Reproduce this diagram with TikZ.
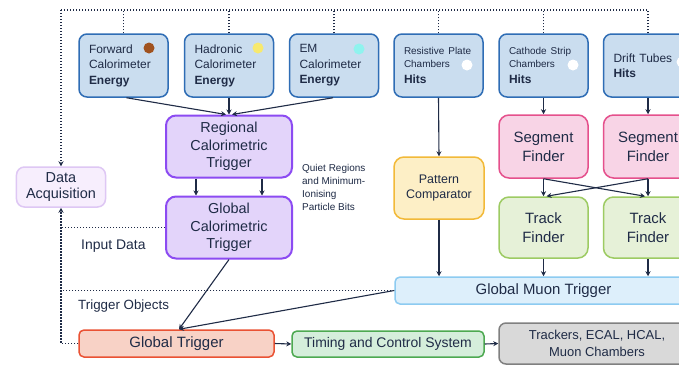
\documentclass[tikz,border=0pt]{standalone}
\usepackage{fontspec}
\setmainfont{Liberation Sans}
\usetikzlibrary{arrows.meta}

\definecolor{ink}{HTML}{1F2B46}
\definecolor{srcfill}{HTML}{CADDEF}
\definecolor{srcline}{HTML}{2F6DB5}
\definecolor{calofill}{HTML}{E3D4FA}
\definecolor{caloline}{HTML}{8C4BF2}
\definecolor{daqfill}{HTML}{F7EEFD}
\definecolor{daqline}{HTML}{DEC7F4}
\definecolor{pcfill}{HTML}{FDEFC6}
\definecolor{pcline}{HTML}{F2B938}
\definecolor{sffill}{HTML}{F8D4E6}
\definecolor{sfline}{HTML}{E5508C}
\definecolor{tffill}{HTML}{E6F1D8}
\definecolor{tfline}{HTML}{9DCB63}
\definecolor{gmtfill}{HTML}{DDEFFB}
\definecolor{gmtline}{HTML}{8DCBF1}
\definecolor{gtfill}{HTML}{F8D2C6}
\definecolor{gtline}{HTML}{EA5234}
\definecolor{tcsfill}{HTML}{D5EEDB}
\definecolor{tcsline}{HTML}{4DA951}
\definecolor{trkfill}{HTML}{D9D9D9}
\definecolor{trkline}{HTML}{808080}
\definecolor{fwddot}{HTML}{A0521F}
\definecolor{haddot}{HTML}{F7E96F}
\definecolor{emdot}{HTML}{8FF3EE}

\tikzset{
  box/.style={draw, inner sep=0pt, align=center, text=ink, line width=1.5bp},
  srcbox/.style={box, fill=srcfill, draw=srcline, rounded corners=8bp,
    minimum width=89bp, minimum height=63bp, text width=69bp, align=left,
    font=\fontsize{12}{15.5}\selectfont},
  calobox/.style={box, fill=calofill, draw=caloline, line width=2bp, rounded corners=10bp,
    minimum width=126bp, minimum height=62bp, font=\fontsize{14.5}{17.5}\selectfont},
  daqbox/.style={box, fill=daqfill, draw=daqline, rounded corners=8bp,
    minimum width=89bp, minimum height=40bp, font=\fontsize{14.5}{17}\selectfont},
  pcbox/.style={box, fill=pcfill, draw=pcline, rounded corners=10bp,
    minimum width=90bp, minimum height=62bp, font=\fontsize{12.5}{16}\selectfont},
  sfbox/.style={box, fill=sffill, draw=sfline, rounded corners=10bp,
    minimum width=89bp, minimum height=63bp, font=\fontsize{15}{19}\selectfont},
  tfbox/.style={box, fill=tffill, draw=tfline, rounded corners=10bp,
    minimum width=89bp, minimum height=61bp, font=\fontsize{15}{19.5}\selectfont},
  gmtbox/.style={box, fill=gmtfill, draw=gmtline, rounded corners=5bp,
    minimum width=297bp, minimum height=27bp, font=\fontsize{15}{18}\selectfont},
  gtbox/.style={box, fill=gtfill, draw=gtline, rounded corners=5bp,
    minimum width=195bp, minimum height=27bp, font=\fontsize{15}{18}\selectfont},
  tcsbox/.style={box, fill=tcsfill, draw=tcsline, rounded corners=5bp,
    minimum width=192bp, minimum height=26bp, font=\fontsize{14}{17}\selectfont},
  trkbox/.style={box, fill=trkfill, draw=trkline, rounded corners=7bp,
    minimum width=196bp, minimum height=41bp, font=\fontsize{13}{17}\selectfont},
  dot/.style={circle, inner sep=0pt, minimum size=11bp, draw=none},
  lbl/.style={inner sep=0pt, text=ink},
  arr/.style={draw=ink, line width=1.1bp, -{Stealth[length=5bp,width=5bp]}},
  dots/.style={draw=ink, line width=1.4bp, dash pattern=on 1.4bp off 1.6bp},
  darr/.style={dots, -{Stealth[length=5bp,width=5bp]}},
}

\begin{document}
\begin{tikzpicture}[x=1bp, y=-1bp]
\useasboundingbox[fill=white] (0,0) rectangle (679,365);
\clip (0,0) rectangle (679,365);

% detector sources
\node[srcbox] (fwd) at (123.5,65.5) {Forward\\Calorimeter\\\textbf{Energy}};
\node[srcbox] (had) at (229,65.5) {Hadronic\\Calorimeter\\\textbf{Energy}};
\node[srcbox] (em)  at (334,65.5) {EM\\Calorimeter\\\textbf{Energy}};
\node[srcbox] (rpc) at (438.5,65.5) {{\fontsize{10}{13}\selectfont Resistive Plate\\[-2.5pt]Chambers}\\\textbf{Hits}};
\node[srcbox] (csc) at (543.5,65.5) {{\fontsize{10}{13}\selectfont Cathode Strip\\[-2.5pt]Chambers}\\\textbf{Hits}};
\node[srcbox] (dt)  at (648,65.5) {Drift Tubes\\\textbf{Hits}};

\node[dot, fill=fwddot] (fwddot) at (149,48) {};
\node[dot, fill=haddot] (haddot) at (258,48) {};
\node[dot, fill=emdot]  (emdot)  at (359,49) {};
\node[dot, fill=white]  (rpcdot) at (467,65) {};
\node[dot, fill=white]  (cscdot) at (573,65) {};
\node[dot, fill=white]  (dtdot)  at (682,62) {};

% calorimetric chain
\node[calobox] (rct) at (229,146.5) {Regional\\Calorimetric\\Trigger};
\node[calobox] (gct) at (229,227.5) {Global\\Calorimetric\\Trigger};
\node[lbl, anchor=north west, align=left, font=\fontsize{10}{13}\selectfont] (quiet) at (302,164)
  {Quiet Regions\\and Minimum-\\Ionising\\Particle Bits};

% muon chain
\node[pcbox] (pc)  at (439,188) {Pattern\\Comparator};
\node[sfbox] (sf1) at (543.5,146.5) {Segment\\Finder};
\node[sfbox] (sf2) at (648,146.5) {Segment\\Finder};
\node[tfbox] (tf1) at (543.5,227.5) {Track\\Finder};
\node[tfbox] (tf2) at (648,227.5) {Track\\Finder};
\node[gmtbox] (gmt) at (543.5,290.5) {Global Muon Trigger};

% readout and global
\node[daqbox] (daq) at (61,187) {Data\\Acquisition};
\node[gtbox]  (gt)  at (176.5,343.5) {Global Trigger};
\node[tcsbox] (tcs) at (388,344) {Timing and Control System};
\node[trkbox] (trk) at (597,343.5) {Trackers, ECAL, HCAL,\\Muon Chambers};

\node[lbl, anchor=west, font=\fontsize{14}{16}\selectfont] (inlbl) at (81,246) {Input Data};
\node[lbl, anchor=west, font=\fontsize{13.4}{16}\selectfont] (objlbl) at (78,306) {Trigger Objects};

% dotted data-acquisition bus
\coordinate (busL) at (61,10);
\coordinate (busR) at (dt.north |- busL);
\draw[dots] (busL) -- (busR);
\foreach \s in {fwd,had,em,rpc,csc,dt}
  \draw[dots] (\s.north) -- (\s.north |- busL);
\draw[darr] (busL) -- (daq.north);
\draw[darr] (gt.west) -| (daq.south);
\draw[dots] (gct.west) -- (gct.west -| daq.south);
\draw[dots] (gmt.west) -- (gmt.west -| daq.south);

% calorimeter data flow
\draw[arr] ([xshift=3bp]fwd.south) -- ([xshift=-3bp]rct.north);
\draw[arr] (had.south) -- (rct.north);
\draw[arr] ([xshift=-1bp]em.south) -- ([xshift=3bp]rct.north);
\draw[arr] ([xshift=-33bp]rct.south) -- ([xshift=-33bp]gct.north);
\draw[arr] ([xshift=33bp]rct.south) -- ([xshift=33bp]gct.north);

% muon data flow
\draw[arr] (rpc.south) -- (pc.north);
\draw[arr] (csc.south) -- (sf1.north);
\draw[arr] (dt.south) -- (sf2.north);
\draw[arr] (sf1.south) -- (tf1.north);
\draw[arr] (sf2.south) -- (tf2.north);
\draw[arr] (sf1.south) -- ([xshift=-3bp]tf2.north);
\draw[arr] (sf2.south) -- ([xshift=3bp]tf1.north);
\draw[arr] (pc.south) -- (pc.south |- gmt.north);
\draw[arr] (tf1.south) -- (gmt.north -| tf1.south);
\draw[arr] (tf2.south) -- (gmt.north -| tf2.south);

% global trigger and control
\draw[arr] (gct.south) -- ([xshift=2.5bp]gt.north);
\draw[arr] (gmt.west) -- ([xshift=2.5bp]gt.north);
\draw[arr] (gt.east) -- (tcs.west);
\draw[arr] (tcs.east) -- (trk.west);
\end{tikzpicture}
\end{document}
